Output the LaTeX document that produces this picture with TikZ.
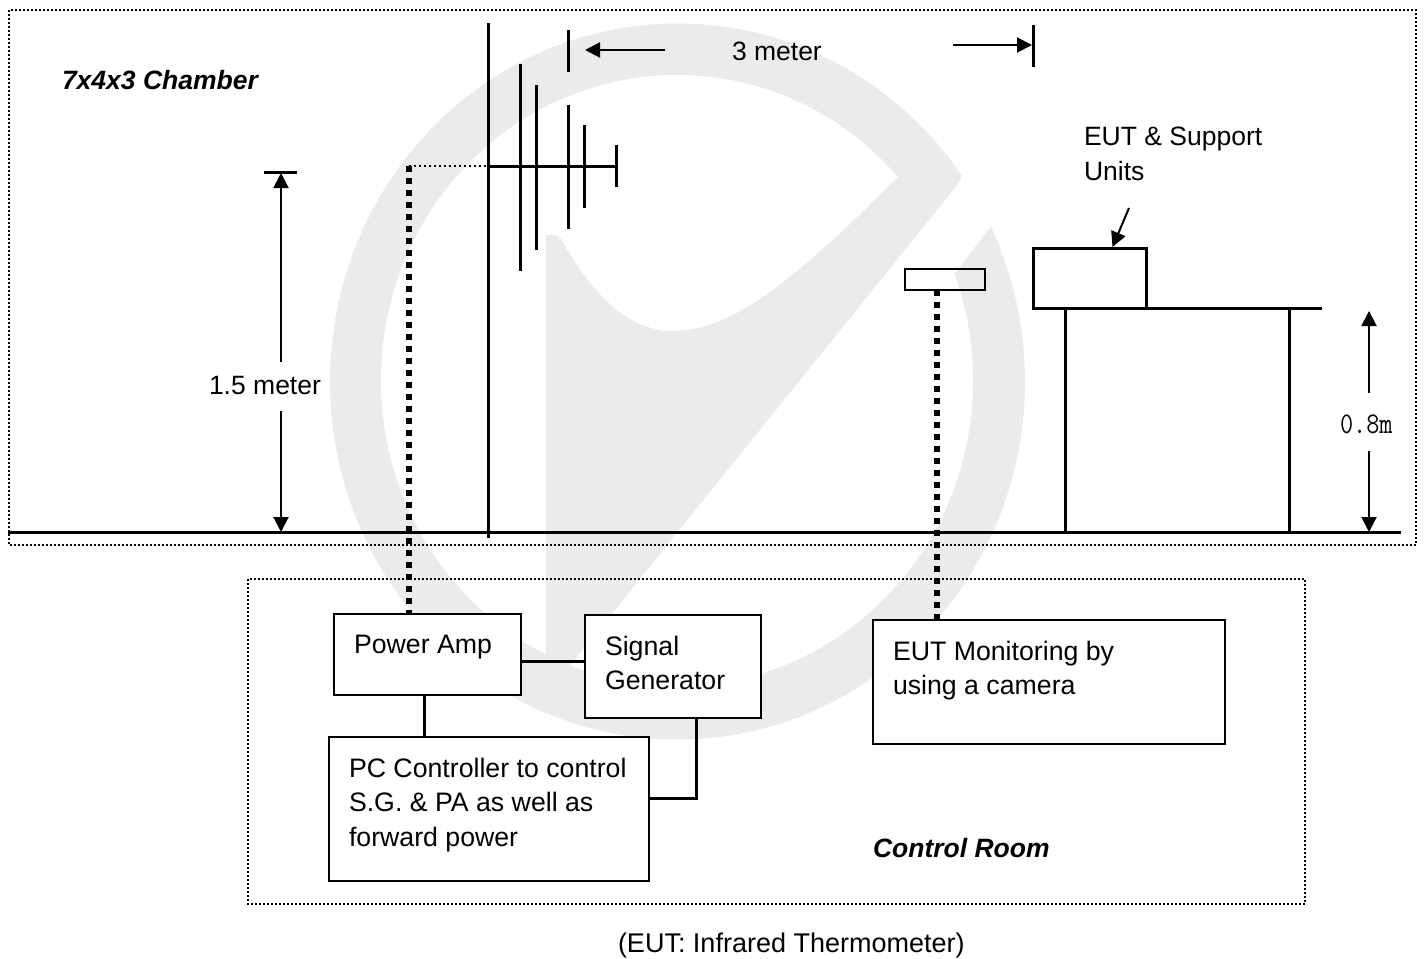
\documentclass[tikz,border=0pt]{standalone}
\usepackage{fontspec}
\setmainfont{Liberation Sans}
\usepackage{xcolor}
\usetikzlibrary{arrows.meta}
\definecolor{markgray}{HTML}{EBEBEB}

\begin{document}
\begin{tikzpicture}[x=1pt,y=-1pt,>={Triangle[length=15pt,width=15pt]},
  labeltext/.style={inner sep=0pt,outer sep=0pt,anchor=base west,align=flush left,font=\fontsize{26.5}{35}\selectfont},
  roomname/.style={labeltext,font=\fontsize{26.5}{35}\selectfont\bfseries\itshape},
  unitbox/.style={draw,line width=2pt,fill=white,anchor=north west,align=flush left,inner xsep=20pt,inner ysep=21pt,outer sep=0pt,font=\fontsize{26.7}{34.5}\selectfont},
  framedot/.style={line width=1.5pt,dash pattern=on 2pt off 2pt},
  feedline/.style={line width=6pt,dash pattern=on 6pt off 6pt},
  rod/.style={line width=3pt},
  wire/.style={line width=3pt},
  dimline/.style={->,line width=2pt}]
  \useasboundingbox (0,0) rectangle (1426,958);
  \fill[markgray] (677.5,381.5) ellipse [x radius=347.5pt,y radius=358pt];
  \fill[white] (677,380.5) ellipse [x radius=296pt,y radius=305.5pt];
  \fill[white] (961,177) -- (1040,120) -- (1060,200) -- (990,227) -- (956,272) -- (885,272) -- cycle;
  \fill[markgray] (546,668) -- (546,235) .. controls (552,234) and (557,234) .. (561,239) .. controls (590,290) and (625,331) .. (673,331) .. controls (730,331) and (790,285) .. (897,178) -- (930,140) -- (955,170) .. controls (962,176) and (962,180) .. (958,184) -- (568,668) -- cycle;

  \draw[framedot] (9,10) rectangle (1416,545);
  \draw[framedot] (248,579) rectangle (1305,904);

  \node[roomname] (chambername) at (62,89) {7x4x3 Chamber};
  \node[roomname] (controlname) at (873,857) {Control Room};
  \node[labeltext] (threemeter) at (732,60) {3 meter};
  \node[labeltext] (onefive) at (209,394) {1.5 meter};
  \node[labeltext] (eutname) at (1084,180) {EUT \& Support\\Units};
  \node[labeltext,font=\fontsize{27}{35}\selectfont] (eutnote) at (618,952) {(EUT: Infrared Thermometer)};
  \node[labeltext,font=\fontsize{30}{35}\ttfamily] (zeroeight) at (1340,433) {\scalebox{0.85}[1]{0.8m}};

  \node[unitbox,text width=147pt,text depth=20.7pt] (poweramp) at (334,614) {Power Amp};
  \node[unitbox,text width=136pt,text depth=41.5pt] (siggen) at (585,615) {Signal\\Generator};
  \node[unitbox,text width=280pt,text depth=82.7pt] (pcctrl) at (329,737) {PC Controller to control\\S.G. \& PA as well as\\forward power};
  \node[unitbox,text width=312pt,text depth=62.5pt] (eutmon) at (873,620) {EUT Monitoring by\\using a camera};
  \node[draw,line width=3pt,minimum width=113pt,minimum height=60pt,inner sep=0pt,outer sep=0pt] (eutbox) at (1089.5,278) {};
  \node[draw,line width=2pt,minimum width=80pt,minimum height=21pt,inner sep=0pt,outer sep=0pt] (camera) at (945,279.5) {};

  \coordinate (floorleft) at (8,532);
  \coordinate (floorright) at (1400.5,532);
  \coordinate (mastroot) at (488,166);
  \coordinate (feedtop) at (408.5,166);
  \coordinate (camfoot) at (937,290);
  \coordinate (siggenfoot) at (696,717);
  \coordinate (pcjoint) at (696,798);
  \coordinate (ampfoot) at (424,696);
  \coordinate (ampright) at (521,661);

  \draw[rod] (floorleft) -- (floorright);
  \draw[rod] (488,23) -- (488,538);
  \draw[rod] (mastroot) -- (616.5,166);
  \draw[rod] (520,64) -- (520,271);
  \draw[rod] (536,85) -- (536,250);
  \draw[rod] (568,105) -- (568,229);
  \draw[rod] (584,125) -- (584,208);
  \draw[rod] (616.5,145) -- (616.5,187);
  \draw[rod] (568,30) -- (568,72);
  \draw[rod] (1033,25) -- (1033,67);
  \draw[rod] (264,172) -- (297,172);
  \draw[rod] (1033,308) -- (1322,308);
  \draw[rod] (1065,308) -- (1065,534);
  \draw[rod] (1289,308) -- (1289,534);

  \draw[line width=2pt,dash pattern=on 2pt off 3pt] (feedtop) -- (mastroot);
  \draw[feedline] (feedtop) -- (feedtop |- poweramp.north);
  \draw[feedline] (camfoot) -- (camfoot |- eutmon.north);

  \draw[wire] (ampright) -- (ampright -| siggen.west);
  \draw[wire] (ampfoot) -- (ampfoot |- pcctrl.north);
  \draw[wire] (siggenfoot) -- (pcjoint) -- (pcjoint -| pcctrl.east);

  \draw[dimline] (665,50) -- (585,50);
  \draw[dimline] (953,45) -- (1032,45);
  \draw[dimline] (281,362) -- (281,173);
  \draw[dimline] (281,411) -- (281,532);
  \draw[dimline] (1369,393) -- (1369,311);
  \draw[dimline] (1369,451) -- (1369,532);
  \draw[dimline] (1129,208) -- (1112.5,247);
\end{tikzpicture}
\end{document}
